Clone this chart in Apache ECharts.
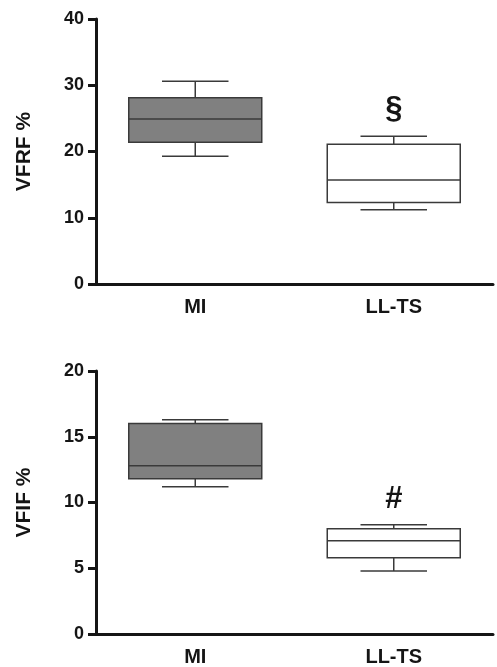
<!DOCTYPE html>
<html>
<head>
<meta charset="utf-8">
<script src="https://cdn.jsdelivr.net/npm/echarts@6/dist/echarts.min.js"></script>
<style>
html,body{margin:0;padding:0;background:#fff;}
#chart{width:497px;height:667px;}
</style>
</head>
<body>
<div id="chart"></div>
<script>
// ---- data ----
const categories = ['MI', 'LL-TS'];
// [low whisker, Q1, median, Q3, high whisker]
const vfrfMI   = [19.3, 21.4, 24.9, 28.1, 30.6];
const vfrfLLTS = [11.2, 12.3, 15.7, 21.1, 22.3];
const vfifMI   = [11.2, 11.8, 12.8, 16.0, 16.3];
const vfifLLTS = [4.8, 5.8, 7.1, 8.0, 8.3];
const vfrfTicks = [0, 10, 20, 30, 40];
const vfifTicks = [0, 5, 10, 15, 20];
const vfrfMark = { category: 'LL-TS', value: 26.3, text: '§' };
const vfifMark = { category: 'LL-TS', value: 10.2, text: '#' };

// ---- styles ----
const fills = { 'MI': '#808080', 'LL-TS': '#ffffff' };
const ink = '#151515';
const boxStroke = '#3a3a3a';
const font = 'Liberation Sans, Arial, sans-serif';

function boxRows(a, b) {
  return [[0].concat(a), [1].concat(b)];
}

function renderBox(params, api) {
  const xi = api.value(0);
  const cat = categories[xi];
  const lo = api.coord([xi, api.value(1)]);
  const q1 = api.coord([xi, api.value(2)]);
  const md = api.coord([xi, api.value(3)]);
  const q3 = api.coord([xi, api.value(4)]);
  const hi = api.coord([xi, api.value(5)]);
  const band = api.size([1, 0])[0];
  const bw = band * 0.67;
  const cw = bw * 0.5;
  const cx = md[0];
  const ls = { stroke: boxStroke, lineWidth: 1.5, fill: null };
  return {
    type: 'group',
    children: [
      { type: 'line', shape: { x1: cx, y1: q3[1], x2: cx, y2: hi[1] }, style: ls },
      { type: 'line', shape: { x1: cx - cw / 2, y1: hi[1], x2: cx + cw / 2, y2: hi[1] }, style: ls },
      { type: 'line', shape: { x1: cx, y1: q1[1], x2: cx, y2: lo[1] }, style: ls },
      { type: 'line', shape: { x1: cx - cw / 2, y1: lo[1], x2: cx + cw / 2, y2: lo[1] }, style: ls },
      { type: 'rect', shape: { x: cx - bw / 2, y: q3[1], width: bw, height: q1[1] - q3[1] },
        style: { fill: fills[cat], stroke: boxStroke, lineWidth: 1.5 } },
      { type: 'line', shape: { x1: cx - bw / 2, y1: md[1], x2: cx + bw / 2, y2: md[1] }, style: ls }
    ]
  };
}

const marksText = { 2: vfrfMark.text, 3: vfifMark.text };
function renderMark(params, api) {
  const p = api.coord([api.value(0), api.value(1)]);
  return {
    type: 'text',
    style: {
      x: p[0], y: p[1], text: marksText[params.seriesIndex],
      fill: ink, font: 'bold 31px ' + font, align: 'center', verticalAlign: 'middle'
    }
  };
}

function xAxisCfg(gi) {
  return {
    type: 'category', gridIndex: gi, data: categories, boundaryGap: true,
    axisLine: { lineStyle: { color: ink, width: 3 } },
    axisTick: { alignWithLabel: true, length: 8, lineStyle: { color: ink, width: 3 } },
    axisLabel: { color: ink, fontSize: 20, fontWeight: 'bold', fontFamily: font, margin: 13 },
    splitLine: { show: false }
  };
}
function yAxisCfg(gi, ticks, name) {
  return {
    type: 'value', gridIndex: gi, min: ticks[0], max: ticks[ticks.length - 1],
    interval: ticks[1] - ticks[0],
    name: name, nameLocation: 'middle', nameGap: 61, nameRotate: 90,
    nameTextStyle: { color: ink, fontSize: 21, fontWeight: 'bold', fontFamily: font },
    axisLine: { show: true, lineStyle: { color: ink, width: 3 } },
    axisTick: { show: true, length: 8, lineStyle: { color: ink, width: 3 } },
    axisLabel: { color: ink, fontSize: 18, fontWeight: 'bold', fontFamily: font, margin: 12 },
    splitLine: { show: false }
  };
}

const chart = echarts.init(document.getElementById('chart'), null, { renderer: 'canvas' });
chart.setOption({
  backgroundColor: '#fff',
  animation: false,
  grid: [
    { left: 96, top: 19, width: 397, height: 265 },
    { left: 96, top: 371, width: 397, height: 265 }
  ],
  xAxis: [xAxisCfg(0), xAxisCfg(1)],
  yAxis: [yAxisCfg(0, vfrfTicks, 'VFRF %'), yAxisCfg(1, vfifTicks, 'VFIF %')],
  series: [
    { type: 'custom', xAxisIndex: 0, yAxisIndex: 0, renderItem: renderBox,
      encode: { x: 0, y: [1, 2, 3, 4, 5] }, data: boxRows(vfrfMI, vfrfLLTS) },
    { type: 'custom', xAxisIndex: 1, yAxisIndex: 1, renderItem: renderBox,
      encode: { x: 0, y: [1, 2, 3, 4, 5] }, data: boxRows(vfifMI, vfifLLTS) },
    { type: 'custom', xAxisIndex: 0, yAxisIndex: 0, renderItem: renderMark,
      encode: { x: 0, y: 1 }, data: [[categories.indexOf(vfrfMark.category), vfrfMark.value]] },
    { type: 'custom', xAxisIndex: 1, yAxisIndex: 1, renderItem: renderMark,
      encode: { x: 0, y: 1 }, data: [[categories.indexOf(vfifMark.category), vfifMark.value]] }
  ]
});
</script>
</body>
</html>
